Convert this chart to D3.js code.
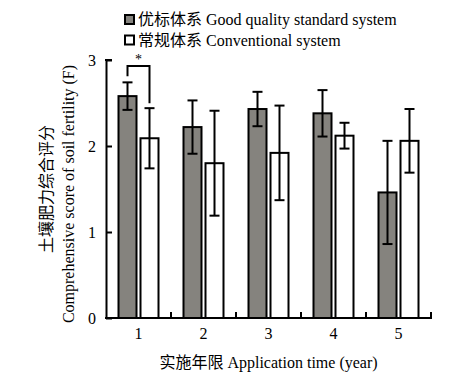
<!DOCTYPE html>
<html><head><meta charset="utf-8">
<script src="https://cdn.jsdelivr.net/npm/d3@7"></script>
<style>body{margin:0;background:#fff}svg{display:block}</style>
</head><body>
<script>
const categories = ["1","2","3","4","5"];
const seriesNames = ["优标体系 Good quality standard system","常规体系 Conventional system"];
const goodValues = [2.58, 2.22, 2.43, 2.38, 1.46];
const goodErrors = [0.16, 0.31, 0.20, 0.27, 0.60];
const convValues = [2.09, 1.80, 1.92, 2.12, 2.06];
const convErrors = [0.35, 0.61, 0.55, 0.15, 0.37];
const yTicks = [0,1,2,3];
const yTitleCN = "土壤肥力综合评分";
const yTitleEN = "Comprehensive score of soil fertility (F)";
const xTitle = "实施年限 Application time (year)";

const W=451,H=385;
const m={l:106,r:431,t:60,b:318};
const font="'Liberation Serif','Times New Roman',serif";
const cjk="'Liberation Serif','Noto Sans CJK SC',serif";
const svg=d3.select("body").append("svg").attr("width",W).attr("height",H);
const x=d3.scaleBand().domain(categories).range([m.l,m.r]).padding(0);
const y=d3.scaleLinear().domain([0,3]).range([m.b,m.t]);
const colors=["#85837e","#ffffff"];
const bw=18, gap=4;
const series=[{v:goodValues,e:goodErrors},{v:convValues,e:convErrors}];

// bars
series.forEach((s,si)=>{
  const off = x.bandwidth()/2 + (si===0 ? -(bw+gap/2) : gap/2);
  const g=svg.append("g");
  g.selectAll("rect").data(categories).join("rect")
    .attr("x",d=>x(d)+off).attr("width",bw)
    .attr("y",(d,i)=>y(s.v[i])).attr("height",(d,i)=>y(0)-y(s.v[i]))
    .attr("fill",colors[si]).attr("stroke","#000").attr("stroke-width",2);
  categories.forEach((d,i)=>{
    const cx=x(d)+off+bw/2;
    const top=y(s.v[i]+s.e[i]), bot=y(s.v[i]-s.e[i]);
    g.append("line").attr("x1",cx).attr("x2",cx).attr("y1",top).attr("y2",bot).attr("stroke","#000").attr("stroke-width",2);
    [top,bot].forEach(yy=>g.append("line").attr("x1",cx-5).attr("x2",cx+5).attr("y1",yy).attr("y2",yy).attr("stroke","#000").attr("stroke-width",2));
  });
});

// axes
const ya=svg.append("g").attr("transform",`translate(${m.l},0)`)
  .call(d3.axisLeft(y).tickValues(yTicks).tickFormat(d3.format("d")).tickSizeInner(-6).tickSizeOuter(0).tickPadding(10));
ya.select(".domain").attr("stroke-width",2);
ya.selectAll(".tick line").attr("stroke-width",2);
ya.selectAll("text").attr("font-family",font).attr("font-size",16).attr("fill","#000");
svg.append("line").attr("x1",m.l-1).attr("x2",m.l+6).attr("y1",m.t).attr("y2",m.t).attr("stroke","#000").attr("stroke-width",2);

const xa=svg.append("g").attr("transform",`translate(0,${m.b})`)
  .call(d3.axisBottom(x).tickSize(0).tickPadding(10));
xa.select(".domain").remove();
svg.append("line").attr("x1",m.l-1).attr("x2",m.r+1).attr("y1",m.b).attr("y2",m.b).attr("stroke","#000").attr("stroke-width",2);
xa.selectAll("text").attr("font-family",font).attr("font-size",16).attr("fill","#000");
// boundary ticks
categories.forEach((d,i)=>{ if(i>0){ const xx=x(d); svg.append("line").attr("x1",xx).attr("x2",xx).attr("y1",m.b).attr("y2",m.b-6).attr("stroke","#000").attr("stroke-width",2);} });
svg.append("line").attr("x1",m.r).attr("x2",m.r).attr("y1",m.b).attr("y2",m.b-6).attr("stroke","#000").attr("stroke-width",2);

// significance bracket
const c1=x(categories[0])+x.bandwidth()/2-(bw/2+gap/2);
const c2=x(categories[0])+x.bandwidth()/2+(bw/2+gap/2);
const by=66;
svg.append("path").attr("d",`M${c1},${y(goodValues[0]+goodErrors[0])-6}V${by}H${c2}V${y(convValues[0]+convErrors[0])-5}`)
  .attr("fill","none").attr("stroke","#000").attr("stroke-width",2);
svg.append("text").attr("x",(c1+c2)/2).attr("y",64).attr("text-anchor","middle").attr("font-family",font).attr("font-size",14).text("*");

// legend
seriesNames.forEach((n,i)=>{
  const ly=20+i*20.5;
  svg.append("rect").attr("x",125).attr("y",ly-5).attr("width",9).attr("height",9).attr("fill",colors[i]).attr("stroke","#000").attr("stroke-width",2);
  svg.append("text").attr("x",138).attr("y",ly+5).attr("font-family",cjk).attr("font-size",16).attr("fill","#000").text(n);
});

// axis titles
svg.append("text").attr("x",268.5).attr("y",368).attr("text-anchor","middle").attr("font-family",cjk).attr("font-size",16).attr("fill","#000").text(xTitle);
svg.append("text").attr("transform","translate(52,189) rotate(-90)").attr("text-anchor","middle").attr("font-family",cjk).attr("font-size",16).attr("fill","#000").text(yTitleCN);
svg.append("text").attr("transform","translate(74,194) rotate(-90)").attr("text-anchor","middle").attr("font-family",font).attr("font-size",16).attr("fill","#000").text(yTitleEN);
</script>
</body></html>
